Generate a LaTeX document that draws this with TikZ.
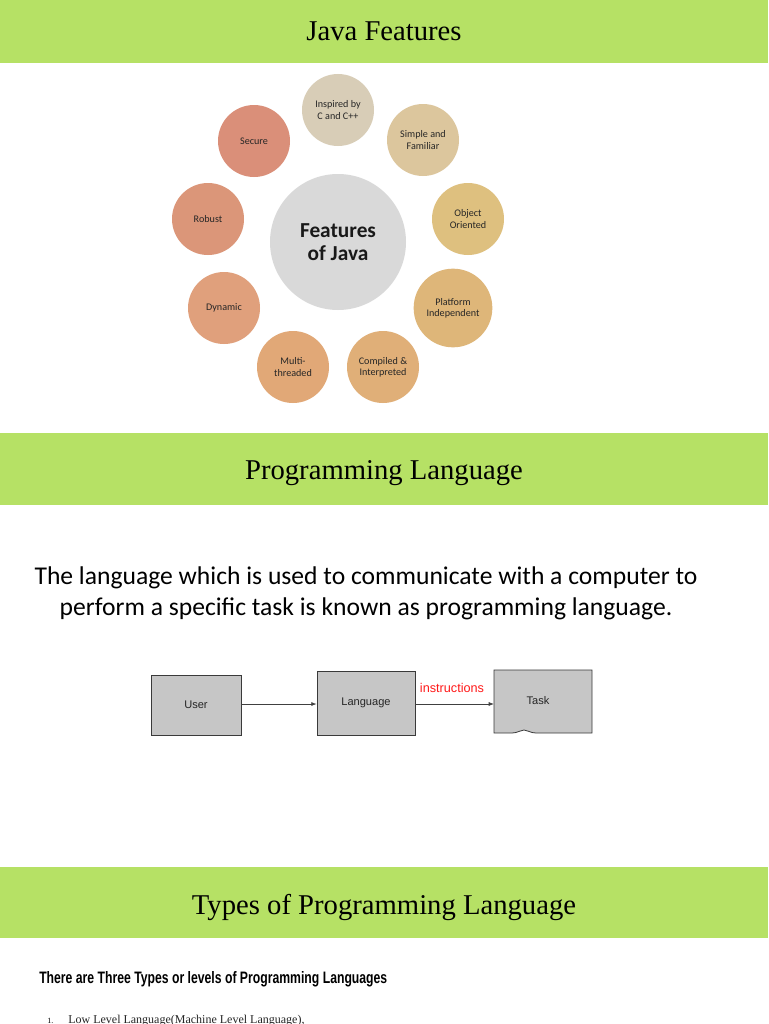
\documentclass[tikz,border=0pt]{standalone}
\usepackage{fontspec}
\setmainfont{Liberation Serif}
\newfontfamily\calfont{Carlito}
\newfontfamily\arialfont{Liberation Sans}
\usetikzlibrary{arrows.meta}
\definecolor{band}{HTML}{B6E165}
\definecolor{cInsp}{HTML}{D8CDB7}
\definecolor{cSimp}{HTML}{DCC69D}
\definecolor{cObj}{HTML}{DEC07F}
\definecolor{cPlat}{HTML}{DEB679}
\definecolor{cComp}{HTML}{E0AF78}
\definecolor{cMulti}{HTML}{E1A877}
\definecolor{cDyn}{HTML}{E0A07C}
\definecolor{cRob}{HTML}{DB9679}
\definecolor{cSec}{HTML}{DA8F79}
\definecolor{cCenter}{HTML}{D9D9D9}
\definecolor{boxfill}{HTML}{C6C6C6}
\definecolor{boxline}{HTML}{3A3A3A}
\definecolor{instr}{HTML}{FF1A1A}
\tikzset{
  bandbox/.style={fill=band, draw=none},
  bandtitle/.style={font=\fontsize{21.5}{25}\selectfont, text=black},
  feat/.style={circle, draw=none, minimum size=54pt, inner sep=0pt, align=center,
     font=\calfont\fontsize{7.6}{8.4}\selectfont, text=black!85},
  flowbox/.style={draw=boxline, fill=boxfill, line width=0.6pt, font=\arialfont\fontsize{8.3}{10}\selectfont, text=black!85},
  flowarrow/.style={draw=black!75, line width=0.5pt, -{Latex[length=4pt,width=3pt]}}
}
\begin{document}
\begin{tikzpicture}[x=0.75pt,y=-0.75pt]
\useasboundingbox (0,0) rectangle (768,1024);
\clip (0,0) rectangle (768,1024);
\fill[white] (0,0) rectangle (768,1024);
% bands
\fill[bandbox] (0,0) rectangle (768,63);
\node[bandtitle] (t1) at (384,31) {Java Features};
\fill[bandbox] (0,433) rectangle (768,505);
\node[bandtitle] (t2) at (384,473) {Programming Language};
\fill[bandbox] (0,867) rectangle (768,938);
\node[bandtitle] (t3) at (384,907) {Types of Programming Language};
% features
\node[circle, fill=cCenter, minimum size=102pt, inner sep=0pt, align=center,
  font=\calfont\bfseries\fontsize{16}{17.3}\selectfont, text=black!90] (center) at (338,242) {Features\\of Java};
\node[feat, fill=cInsp] (insp) at (338,110) {Inspired by\\C and C++};
\node[feat, fill=cSimp] (simp) at (423,140) {Simple and\\Familiar};
\node[feat, fill=cObj] (obj) at (468,219) {Object\\Oriented};
\node[feat, fill=cPlat, minimum size=59pt] (plat) at (453,308) {Platform\\Independent};
\node[feat, fill=cComp] (comp) at (383,367) {Compiled \&\\Interpreted};
\node[feat, fill=cMulti] (multi) at (293,367) {Multi-\\threaded};
\node[feat, fill=cDyn] (dyn) at (224,308) {Dynamic};
\node[feat, fill=cRob] (rob) at (208,219) {Robust};
\node[feat, fill=cSec] (sec) at (254,141) {Secure};
% paragraph
\node[font=\calfont\fontsize{19.2}{23.3}\selectfont, align=center] (para) at (366,593)
  {The language which is used to communicate with a computer to\\perform a specific task is known as programming language.};
% flow
\node[flowbox, minimum width=67.5pt, minimum height=45pt, inner sep=0pt] (user) at (196,705) {User};
\node[flowbox, minimum width=73.5pt, minimum height=48pt, inner sep=0pt] (lang) at (366,703) {Language};
\coordinate (tNW) at (494,670);
\coordinate (tNE) at (592,670);
\coordinate (tSE) at (592,733);
\coordinate (tSW) at (494,733);
\draw[draw=boxline, fill=boxfill, line width=0.6pt]
  (tNW) -- (tNE) -- (tSE) -- (536,733) .. controls (530,733) and (528,730) .. (524,730) .. controls (520,730) and (518,733) .. (512,733) -- (tSW) -- cycle;
\node[font=\arialfont\fontsize{8.3}{10}\selectfont, text=black!85] (task) at (538,701) {Task};
\draw[flowarrow] (user.east |- 0,704) -- (lang.west |- 0,704);
\draw[flowarrow] (lang.east |- 0,704) -- (tNW |- 0,704);
\node[font=\arialfont\fontsize{9.5}{11}\selectfont, text=instr] (instrl) at (452,688) {instructions};
% types
\node[anchor=base west, inner sep=0pt] (three) at (39,983)
  {\resizebox{261pt}{9pt}{\arialfont\bfseries\fontsize{10}{12}\selectfont There are Three Types or levels of Programming Languages}};
\node[anchor=base west, inner sep=0pt, font=\fontsize{6}{7}\selectfont] (n1) at (47,1023) {1.};
\node[anchor=base west, inner sep=0pt, font=\fontsize{9}{11}\selectfont, text=black!85] (low) at (68,1023) {Low Level Language(Machine Level Language),};
\end{tikzpicture}
\end{document}
